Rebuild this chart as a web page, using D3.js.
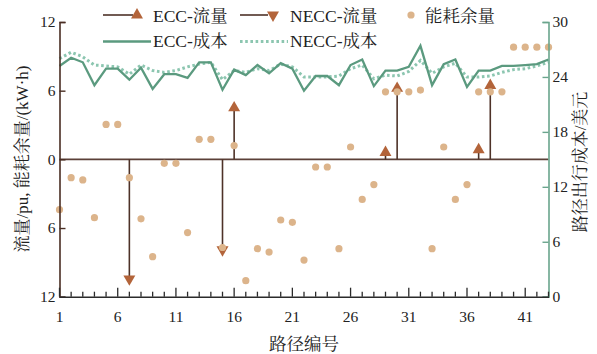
<!DOCTYPE html>
<html>
<head>
<meta charset="utf-8">
<script src="https://cdn.jsdelivr.net/npm/d3@7"></script>
<style>
html,body{margin:0;padding:0;background:#fff;}
svg text{font-family:"Liberation Serif","Noto Serif CJK SC","Noto Sans CJK SC",serif;fill:#222;}
</style>
</head>
<body>
<svg id="c" width="597" height="354"></svg>
<script>
const routes = [1,2,3,4,5,6,7,8,9,10,11,12,13,14,15,16,17,18,19,20,21,22,23,24,25,26,27,28,29,30,31,32,33,34,35,36,37,38,39,40,41,42,43];
const xTicks = [1,6,11,16,21,26,31,36,41];
const leftTicks = [-12,-6,0,6,12];
const rightTicks = [0,6,12,18,24,30];

const energy = [-4.4,-1.6,-1.8,-5.1,3.05,3.05,-1.6,-5.2,-8.5,-0.35,-0.35,-6.4,1.75,1.75,-7.7,1.2,-10.6,-7.8,-8.1,-5.3,-5.5,-8.8,-0.67,-0.67,-7.8,1.08,-3.5,-2.2,5.9,5.9,5.9,6.05,-7.8,1.08,-3.5,-2.2,5.9,5.9,5.9,9.8,9.8,9.8,9.8];
const eccCost = [25.2,26.1,25.6,23.1,24.9,24.9,23.7,25.0,22.7,24.3,24.3,23.9,25.6,25.6,22.6,24.8,24.2,25.3,24.4,25.5,24.9,22.5,24.1,24.1,23.1,25.3,25.9,23.0,24.7,24.7,25.1,27.4,23.1,25.4,25.9,22.9,24.7,24.7,25.2,25.2,25.3,25.4,25.9];
const neccCost = [26.0,26.7,26.2,25.3,25.2,25.1,24.3,25.3,24.7,24.5,24.7,25.1,25.4,25.6,23.7,24.7,24.5,24.9,24.7,25.4,25.1,24.0,24.0,24.0,24.1,24.9,25.3,23.8,24.2,24.1,24.6,25.8,24.4,25.1,25.5,24.0,24.0,24.1,24.5,24.8,24.9,25.2,25.6];
const eccFlowRoutes = [16,29,30,37,38];
const eccFlowValues = [4.5,0.6,6.2,0.84,6.45];
const neccFlowRoutes = [7,15];
const neccFlowValues = [-10.45,-7.9];

const C = {
  dot:"#dcb48b", tri:"#b3643a", stem:"#4e3228",
  ecc:"#5b9a7f", necc:"#8cc6b0",
  leftAxis:"#4a2e24", rightAxis:"#6aa58d", zero:"#5b4038", bottom:"#2b2b2b"
};

const svg = d3.select("#c");
const x = d3.scaleLinear().domain([1,43]).range([59.5,548.5]);
const yL = d3.scaleLinear().domain([-12,12]).range([296.7,22]);
const yR = d3.scaleLinear().domain([0,30]).range([296.7,22]);

// cost lines
const lineECC = d3.line().x((d,i)=>x(routes[i])).y(d=>yR(d));
svg.append("path").attr("d", lineECC(neccCost)).attr("fill","none")
  .attr("stroke",C.necc).attr("stroke-width",3).attr("stroke-dasharray","2.6,2.6");
svg.append("path").attr("d", lineECC(eccCost)).attr("fill","none")
  .attr("stroke",C.ecc).attr("stroke-width",2.3).attr("stroke-linejoin","miter");

// zero line
svg.append("line").attr("x1",x(1)).attr("x2",x(43)).attr("y1",yL(0)).attr("y2",yL(0))
  .attr("stroke",C.zero).attr("stroke-width",1.6);

// flows
const triUp = d3.symbol().type(d3.symbolTriangle).size(62)();
function drawFlows(rs, vs, down){
  const g = svg.append("g");
  rs.forEach((r,i)=>{
    g.append("line").attr("x1",x(r)).attr("x2",x(r)).attr("y1",yL(0)).attr("y2",yL(vs[i]))
      .attr("stroke",C.stem).attr("stroke-width",1.6);
    g.append("path").attr("d",triUp).attr("fill",C.tri)
      .attr("transform",`translate(${x(r)},${yL(vs[i])})${down?" rotate(180)":""}`);
  });
}
drawFlows(eccFlowRoutes, eccFlowValues, false);
drawFlows(neccFlowRoutes, neccFlowValues, true);

// dots
svg.append("g").selectAll("circle").data(energy).join("circle")
  .attr("cx",(d,i)=>x(routes[i])).attr("cy",d=>yL(d)).attr("r",3.6).attr("fill",C.dot);

// left axis
const gl = svg.append("g").attr("transform",`translate(${x(1)},0)`)
  .call(d3.axisLeft(yL).tickValues(leftTicks).tickSize(-6).tickPadding(4).tickFormat(d=>Math.abs(d)));
gl.select(".domain").attr("stroke",C.leftAxis).attr("stroke-width",1.6);
gl.selectAll(".tick line").attr("stroke",C.leftAxis).attr("stroke-width",1.4);
gl.selectAll(".tick text").attr("x",-4).style("font-size","15.5px").style("font-family","Liberation Serif").attr("fill","#222");

// right axis
const gr = svg.append("g").attr("transform",`translate(${x(43)},0)`)
  .call(d3.axisRight(yR).tickValues(rightTicks).tickSize(-6).tickPadding(4));
gr.select(".domain").attr("stroke",C.rightAxis).attr("stroke-width",1.6);
gr.selectAll(".tick line").attr("stroke",C.rightAxis).attr("stroke-width",1.4);
gr.selectAll(".tick text").attr("x",4).style("font-size","15.5px").style("font-family","Liberation Serif").attr("fill","#222");

// bottom axis
const gb = svg.append("g").attr("transform",`translate(0,${yL(-12)})`)
  .call(d3.axisBottom(x).tickValues(routes).tickSize(0).tickFormat(""));
gb.select(".domain").attr("stroke",C.bottom).attr("stroke-width",1.6);
gb.selectAll(".tick line").remove();
gb.selectAll(".tk").data(routes).join("line").attr("class","tk")
  .attr("x1",d=>x(d)).attr("x2",d=>x(d)).attr("y1",0)
  .attr("y2",d=> (d-1)%5===0 ? -9 : -5).attr("stroke",C.bottom).attr("stroke-width",1.3);
gb.selectAll(".tl").data(xTicks).join("text").attr("class","tl")
  .attr("x",d=>x(d)).attr("y",25).attr("text-anchor","middle")
  .style("font-size","15.5px").text(d=>d);

// axis titles
svg.append("text").attr("transform",`translate(28,159) rotate(-90)`).attr("text-anchor","middle")
  .style("font-size","17px").text("流量/pu, 能耗余量/(kW·h)");
svg.append("text").attr("transform",`translate(586,162) rotate(-90)`).attr("text-anchor","middle")
  .style("font-size","17px").text("路径出行成本/美元");
svg.append("text").attr("x",304).attr("y",350).attr("text-anchor","middle")
  .style("font-size","17.5px").text("路径编号");

// legend
const lg = svg.append("g");
function legText(tx,ty,t){ lg.append("text").attr("x",tx).attr("y",ty).style("font-size","17.5px").text(t); }
// row 1
lg.append("line").attr("x1",103).attr("x2",133).attr("y1",15).attr("y2",15).attr("stroke",C.stem).attr("stroke-width",1.6);
lg.append("path").attr("d",triUp).attr("fill",C.tri).attr("transform","translate(137,15)");
legText(153,21.5,"ECC-流量");
lg.append("line").attr("x1",240).attr("x2",268).attr("y1",15).attr("y2",15).attr("stroke",C.stem).attr("stroke-width",1.6);
lg.append("path").attr("d",triUp).attr("fill",C.tri).attr("transform","translate(273,15) rotate(180)");
legText(290,21.5,"NECC-流量");
lg.append("circle").attr("cx",411).attr("cy",15).attr("r",3.6).attr("fill",C.dot);
legText(425,21.5,"能耗余量");
// row 2
lg.append("line").attr("x1",103).attr("x2",151).attr("y1",41.5).attr("y2",41.5).attr("stroke",C.ecc).attr("stroke-width",2.3);
legText(153,47,"ECC-成本");
lg.append("line").attr("x1",240).attr("x2",288).attr("y1",41.5).attr("y2",41.5).attr("stroke",C.necc).attr("stroke-width",3).attr("stroke-dasharray","2.6,2.6");
legText(290,47,"NECC-成本");
</script>
</body>
</html>
